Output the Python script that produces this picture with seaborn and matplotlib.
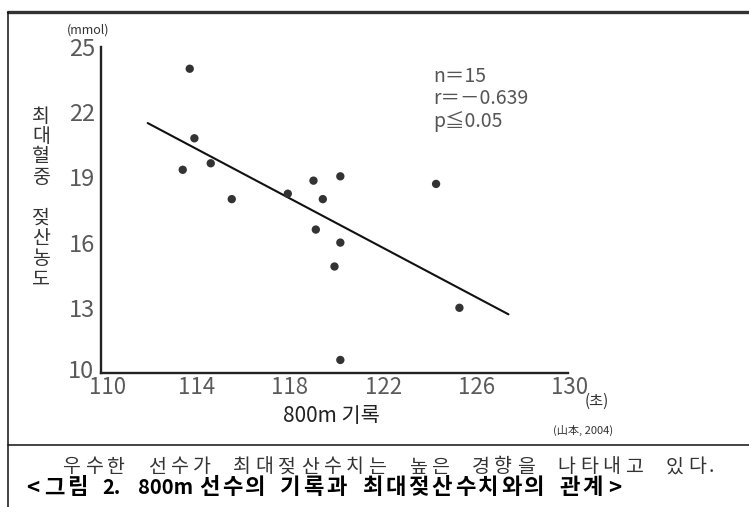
import matplotlib
matplotlib.use("Agg")
import matplotlib.pyplot as plt
import matplotlib.transforms as mtrans
from matplotlib.lines import Line2D
import seaborn as sns
import pandas as pd

# ---- data ----
record_sec = [113.8, 114.0, 113.5, 114.7, 115.6, 118.0, 119.1, 119.5, 120.25,
              119.2, 120.25, 120.0, 120.25, 124.35, 125.35]
lactate = [24.0, 20.8, 19.35, 19.65, 18.0, 18.25, 18.85, 18.0, 19.05,
           16.6, 16.0, 14.9, 10.6, 18.7, 13.0]
fit_x = [112.0, 127.45]
fit_y = [21.5, 12.7]
x_ticks = [110, 114, 118, 122, 126, 130]
y_ticks = [10, 13, 16, 19, 22, 25]
stats_lines = ["n＝15", "r＝－0.639", "p≦0.05"]
y_label = "최대혈중 젖산농도"
x_label = "800m 기록"
caption1 = "우수한 선수가 최대젖산수치는 높은 경향을 나타내고 있다."
caption2 = "<그림 2. 800m 선수의 기록과 최대젖산수치와의 관계>"

sns.set_theme(style="white")
FAM = ["Noto Sans CJK KR", "DejaVu Sans"]
plt.rcParams["font.family"] = FAM

W, H = 749, 507
fig = plt.figure(figsize=(W / 100, H / 100), dpi=100)
fig.patch.set_facecolor("white")

# axes placed in pixel terms: x 101..568, y 47..373 (from top)
ax = fig.add_axes([101 / W, 1 - 373 / H, (568 - 101) / W, (373 - 47) / H])
ax.set_facecolor("white")

df = pd.DataFrame({"x": record_sec, "y": lactate})
sns.scatterplot(data=df, x="x", y="y", ax=ax, s=36, color="#333333",
                edgecolor="none", zorder=3)
fit = pd.DataFrame({"x": fit_x, "y": fit_y})
sns.lineplot(data=fit, x="x", y="y", ax=ax, color="#111111", lw=1.5, zorder=2)

ax.set_xlim(110, 130)
ax.set_ylim(10, 25)
ax.set_xticks(x_ticks)
ax.set_yticks(y_ticks)
ax.set_xlabel("")
ax.set_ylabel("")
for side in ["top", "right"]:
    ax.spines[side].set_visible(False)
for side in ["left", "bottom"]:
    ax.spines[side].set_linewidth(1.7)
    ax.spines[side].set_color("#222222")
    ax.spines[side].set_clip_on(False)
ax.tick_params(axis="both", direction="in", length=5, width=1.3,
               color="#222222", labelcolor="#5a5a5a")
ax.tick_params(axis="x", pad=2, labelsize=16)
ax.tick_params(axis="y", pad=4, labelsize=17)

# small manual nudges of tick labels like the reference
for i, lab in enumerate(ax.get_xticklabels()):
    dx = 0.07 if i == 0 else 0.02
    lab.set_transform(lab.get_transform() +
                      mtrans.ScaledTranslation(dx, 0, fig.dpi_scale_trans))
ylabs = ax.get_yticklabels()
ylabs[0].set_transform(ylabs[0].get_transform() +
                       mtrans.ScaledTranslation(-0.01, 0.04, fig.dpi_scale_trans))


def ftext(x, y, s, **kw):
    fig.text(x / W, 1 - y / H, s, **kw)


# units
ftext(88, 30, "(mmol)", ha="center", va="center", fontsize=9, color="#333333")
ftext(597, 401, "(초)", ha="center", va="center", fontsize=11, color="#333333")
ftext(583, 430, "(山本, 2004)", ha="center", va="center", fontsize=8, color="#333333")

# x label
ftext(331, 416, x_label, ha="center", va="center", fontsize=15, color="#222222")

# stacked vertical y label
y0 = 116
for i, ch in enumerate(y_label):
    if ch != " ":
        ftext(41, y0 + i * 20.4, ch, ha="center", va="center",
              fontsize=14, color="#333333")

# stats
for i, line in enumerate(stats_lines):
    ftext(433, 76 + i * 23, line, ha="left", va="center", fontsize=14,
          color="#555555")


def layout(text, x, y, full, half, angle, size, run_size, **kw):
    """Lay out a caption on a fixed cell grid (Korean = full cell)."""
    run, run_x = "", x
    for ch in text + "\0":
        korean = ord(ch) >= 0xAC00
        if ch in " \0" or korean or ch in "<>":
            if run:
                ftext(run_x + 1, y, run, ha="left", va="center",
                      fontsize=run_size, **kw)
                run = ""
            if ch == "\0":
                break
            adv = full if korean else (angle if ch in "<>" else half)
            if ch != " ":
                ftext(x + adv / 2, y, ch, ha="center", va="center",
                      fontsize=size, **kw)
            x += adv
        else:
            if not run:
                run_x = x
            run += ch
            x += half


layout(caption1, 60.0, 467, 22.5, 18.0, 18.0, 14, 14, color="#333333")
layout(caption2, 22.0, 488, 23.2, 12.0, 21.0, 16, 14.5, fontweight="bold",
       color="#000000")

# frame lines
fig.add_artist(Line2D([8 / W, 1.0], [1 - 12 / H, 1 - 12 / H], transform=fig.transFigure,
                      color="#333333", lw=2.4))
fig.add_artist(Line2D([8 / W, 8 / W], [1 - 12 / H, 0.0], transform=fig.transFigure,
                      color="#111111", lw=1.1))
fig.add_artist(Line2D([8 / W, 1.0], [1 - 445 / H, 1 - 445 / H], transform=fig.transFigure,
                      color="#111111", lw=1.1))

fig.savefig("out.png", dpi=100, facecolor="white")
